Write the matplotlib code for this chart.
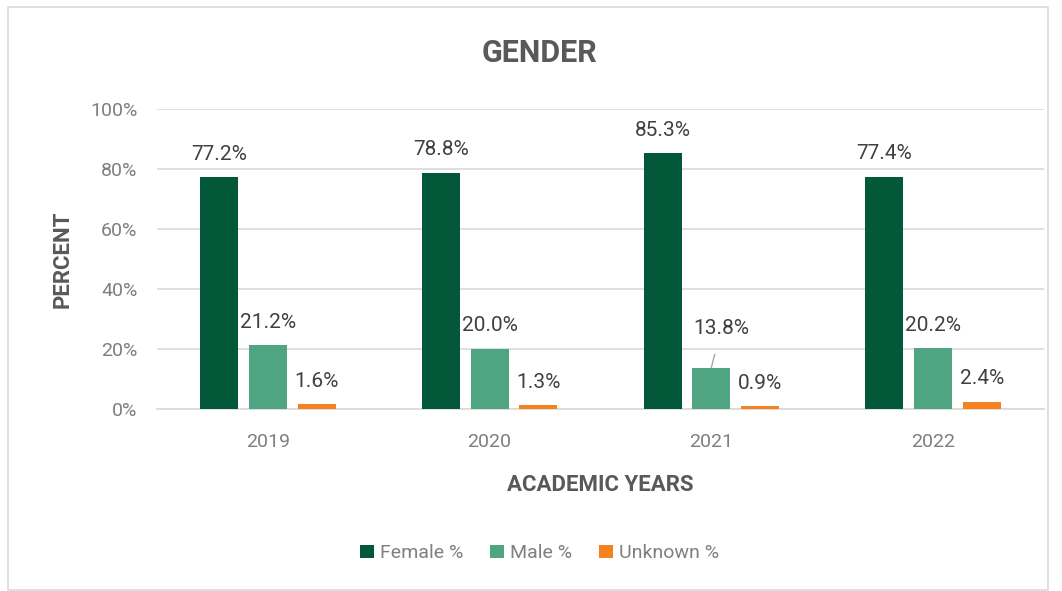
import matplotlib.pyplot as plt
from matplotlib.patches import Rectangle
import numpy as np

years = ["2019", "2020", "2021", "2022"]
female = [77.2, 78.8, 85.3, 77.4]
male = [21.2, 20.0, 13.8, 20.2]
unknown = [1.6, 1.3, 0.9, 2.4]
series_names = ["Female %", "Male %", "Unknown %"]
colors = ["#03583A", "#4FA582", "#F5821F"]

plt.rcParams["font.family"] = "Roboto"

fig = plt.figure(figsize=(10.62, 5.91), dpi=100)
fig.patches.append(Rectangle((8 / 1062, 1 / 591), 1040 / 1062, 583 / 591,
                             transform=fig.transFigure, fill=False,
                             edgecolor="#d9d9d9", linewidth=1.2))
ax = fig.add_axes([0.1478, 0.308, 0.8352, 0.5076])

x = np.arange(len(years))
width = 0.171
step = 0.22
all_series = [female, male, unknown]
bars = []
for i, (vals, name, c) in enumerate(zip(all_series, series_names, colors)):
    b = ax.bar(x + (i - 1) * step, vals, width, color=c, label=name, zorder=3)
    bars.append(b)

# data labels
for i, vals in enumerate(all_series):
    for j, v in enumerate(vals):
        xp = x[j] + (i - 1) * step
        if i == 1 and j == 2:
            # 13.8% sits higher, nudged right, with a leader line
            ax.annotate(f"{v:.1f}%", xy=(xp, v), xytext=(xp + 0.045, v + 13),
                        ha="center", va="center", fontsize=15, color="#404040",
                        arrowprops=dict(arrowstyle="-", color="#a6a6a6", lw=1,
                                        shrinkA=10, shrinkB=0))
            continue
        ax.text(xp, v + 4.5, f"{v:.1f}%", ha="center", va="bottom",
                fontsize=15, color="#404040")

ax.set_xlim(-0.5, len(years) - 0.5)
ax.set_ylim(0, 100)
ax.set_yticks(range(0, 101, 20))
ax.set_yticklabels([f"{t}%" for t in range(0, 101, 20)])
ax.set_xticks(x)
ax.set_xticklabels(years)
ax.tick_params(axis="both", length=0, labelsize=14, labelcolor="#7f7f7f")
ax.tick_params(axis="x", pad=17)
ax.tick_params(axis="y", pad=14)
ax.grid(axis="y", color="#d9d9d9", linewidth=1.2, zorder=0)
for s in ["top", "right", "left"]:
    ax.spines[s].set_visible(False)
ax.spines["bottom"].set_color("#d9d9d9")
ax.spines["bottom"].set_linewidth(1.2)

ax.set_xlabel("ACADEMIC YEARS", fontsize=16, fontweight="bold", color="#595959", labelpad=17)
ax.set_ylabel("PERCENT", fontsize=16, fontweight="bold", color="#595959", labelpad=12)
fig.text(0.508, 0.91, "GENDER", ha="center", va="center", fontsize=22,
         fontweight="bold", color="#595959")

fig.legend(handles=bars, labels=series_names, loc="center", ncol=3,
           bbox_to_anchor=(0.508, 0.064), frameon=False, fontsize=14,
           labelcolor="#7f7f7f", handlelength=0.7, handleheight=0.7,
           handletextpad=0.3, columnspacing=1.4)

fig.savefig("out.png", dpi=100)
